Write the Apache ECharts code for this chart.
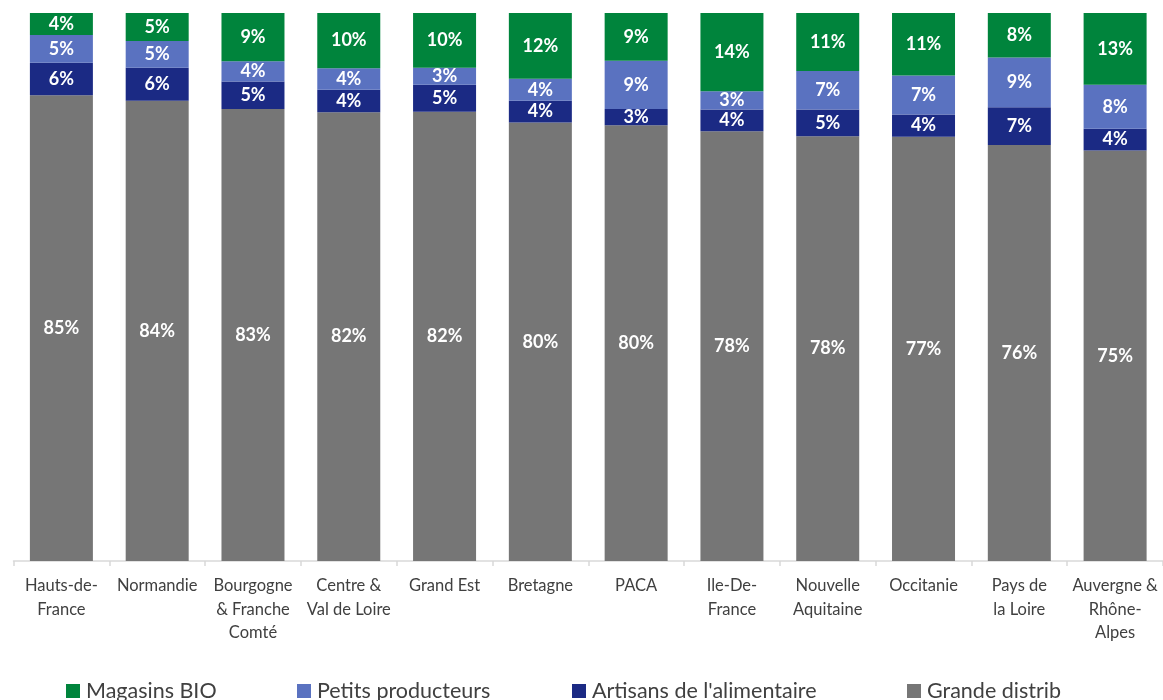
<!DOCTYPE html>
<html>
<head>
<meta charset="utf-8">
<script src="https://cdn.jsdelivr.net/npm/echarts@6/dist/echarts.min.js"></script>
<style>
html,body{margin:0;padding:0;background:#fff;}
#chart{width:1163px;height:700px;}
</style>
</head>
<body>
<div id="chart"></div>
<script>
const categories = ["Hauts-de-\nFrance","Normandie","Bourgogne\n& Franche\nComté","Centre &\nVal de Loire","Grand Est","Bretagne","PACA","Ile-De-\nFrance","Nouvelle\nAquitaine","Occitanie","Pays de\nla Loire","Auvergne &\nRhône-\nAlpes"];
const grandeDistrib = [85.0,84.0,82.5,81.9,82.0,80.0,79.5,78.4,77.5,77.4,75.9,74.9];
const artisans      = [5.9,6.0,5.0,4.1,4.9,4.0,3.0,4.0,4.9,4.1,6.9,4.0];
const petitsProd    = [5.1,4.9,3.7,3.9,3.1,4.0,8.8,3.3,7.0,7.1,9.1,8.0];
const magasinsBio   = [4.0,5.1,8.8,10.1,10.0,12.0,8.7,14.3,10.6,11.4,8.1,13.1];

const seriesNames = ["Grande distrib","Artisans de l'alimentaire","Petits producteurs","Magasins BIO"];
const seriesData = [grandeDistrib, artisans, petitsProd, magasinsBio];
const seriesColors = ["#767676","#1b2a84","#5a72c0","#00843c"];

const FONT = "Lato, 'Noto Sans', sans-serif";
const chart = echarts.init(document.getElementById('chart'));

const series = seriesNames.map((name, i) => ({
  name: name,
  type: 'bar',
  stack: 'total',
  barWidth: 63,
  data: seriesData[i],
  itemStyle: {color: seriesColors[i]},
  label: {
    show: true,
    position: 'inside',
    color: '#ffffff',
    fontFamily: FONT,
    fontWeight: 'bold',
    fontSize: 18,
    formatter: p => Math.round(p.value) + '%'
  }
}));

const legendLefts = {"Magasins BIO":66, "Petits producteurs":297, "Artisans de l'alimentaire":572, "Grande distrib":907};
const legends = Object.keys(legendLefts).map(n => ({
  data: [n],
  left: legendLefts[n],
  top: 680,
  itemWidth: 14,
  itemHeight: 14,
  icon: 'rect',
  itemGap: 0,
  textStyle: {fontFamily: FONT, fontSize: 21.5, color: '#404040', lineHeight: 22, padding: [0,0,0,1]},
  padding: 0,
  selectedMode: false
}));

chart.setOption({
  animation: false,
  grid: {left: 13.5, width: 1151.4, top: 13, bottom: 139},
  legend: legends,
  xAxis: {
    type: 'category',
    data: categories,
    axisLine: {lineStyle: {color: '#d9d9d9', width: 1.5}},
    axisTick: {show: true, length: 5, lineStyle: {color: '#d9d9d9', width: 1.5}},
    axisLabel: {
      interval: 0,
      color: '#404040',
      fontFamily: FONT,
      fontSize: 16.5,
      lineHeight: 23.5,
      margin: 13
    }
  },
  yAxis: {type: 'value', min: 0, max: 100, show: false},
  series: series
});
</script>
</body>
</html>
